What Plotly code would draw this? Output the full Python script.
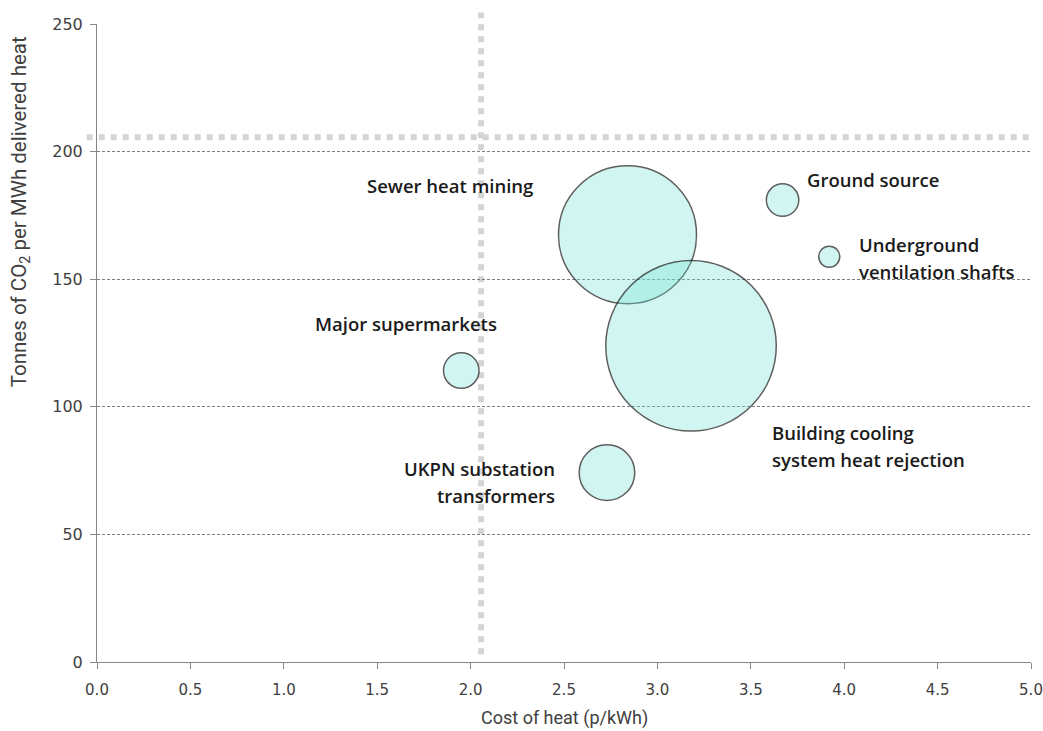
import plotly.graph_objects as go

# ---- data ----
sources = ["Sewer heat mining", "Building cooling system heat rejection", "Ground source",
           "Underground ventilation shafts", "Major supermarkets", "UKPN substation transformers"]
cost = [2.84, 3.18, 3.67, 3.92, 1.95, 2.73]          # p/kWh
co2 = [167.4, 123.9, 181.0, 158.8, 114.2, 74.2]       # tonnes CO2 / MWh delivered heat
heat_potential = [190, 290, 10.5, 4.4, 12.6, 30.8]   # bubble size (relative)

ref_cost = 2.056
ref_co2 = 205.6

x_range = [0, 5]
y_range = [0, 250]
x_ticks = [0, 0.5, 1, 1.5, 2, 2.5, 3, 3.5, 4, 4.5, 5]
x_ticklabels = ["0.0", "0.5", "1.0", "1.5", "2.0", "2.5", "3.0", "3.5", "4.0", "4.5", "5.0"]
y_ticks = [0, 50, 100, 150, 200, 250]

# label lines: (text, x, y, xanchor)
label_lines = [
    ("Sewer heat mining", 1.89, 186.7, "center"),
    ("Ground source", 3.79, 189.0, "left"),
    ("Underground", 4.069, 163.7, "left"),
    ("ventilation shafts", 4.069, 153.0, "left"),
    ("Major supermarkets", 1.654, 132.7, "center"),
    ("UKPN substation", 2.463, 75.9, "right"),
    ("transformers", 2.463, 65.1, "right"),
    ("Building cooling", 3.603, 90.0, "left"),
    ("system heat rejection", 3.603, 79.2, "left"),
]

def xp(v):
    return (v - x_range[0]) / (x_range[1] - x_range[0])

def yp(v):
    return (v - y_range[0]) / (y_range[1] - y_range[0])

ref_color = "#d4d4d4"
fig = go.Figure()

max_d = 170.5
fig.add_trace(go.Scatter(
    x=cost, y=co2, mode="markers", text=sources,
    marker=dict(size=heat_potential, sizemode="area",
                sizeref=2.0 * max(heat_potential) / max_d ** 2,
                color="rgba(110,229,212,0.45)",
                line=dict(color="#1c1c1c", width=1.5)),
    hoverinfo="text", showlegend=False))

# reference dotted lines (extend slightly beyond the plot area)
fig.add_shape(type="line", xref="paper", yref="paper",
              x0=xp(ref_cost), x1=xp(ref_cost), y0=yp(3), y1=yp(254.5),
              line=dict(color=ref_color, width=6, dash="dot"), layer="below")
fig.add_shape(type="line", xref="paper", yref="paper",
              x0=xp(-0.055), x1=xp(4.99), y0=yp(ref_co2), y1=yp(ref_co2),
              line=dict(color=ref_color, width=6, dash="dot"), layer="below")

for txt, x, y, xa in label_lines:
    fig.add_annotation(x=x, y=y, text=txt, xanchor=xa, yanchor="middle",
                       showarrow=False,
                       font=dict(family="Open Sans", size=18.5, color="#1a1a1a", weight=600))

fig.add_annotation(xref="paper", yref="paper", x=0, y=0.705, xshift=-77,
                   text="Tonnes of CO<sub>2</sub> per MWh delivered heat", textangle=-90,
                   xanchor="center", yanchor="middle", showarrow=False,
                   font=dict(family="Roboto", size=20.5, color="#404040"))
fig.add_annotation(xref="paper", yref="paper", x=0.5, y=0, yshift=-56,
                   text="Cost of heat (p/kWh)",
                   xanchor="center", yanchor="middle", showarrow=False,
                   font=dict(family="Roboto", size=18, color="#404040"))

fig.update_xaxes(range=x_range, tickvals=x_ticks, ticktext=x_ticklabels,
                 showgrid=False, zeroline=False, automargin=False,
                 showline=True, linecolor="#868686", linewidth=1,
                 ticks="outside", ticklen=6, tickcolor="#868686",
                 ticklabelstandoff=8,
                 tickfont=dict(family="DejaVu Sans", size=15, color="#404040"))
fig.update_yaxes(range=y_range, tickvals=y_ticks,
                 showgrid=True, gridcolor="#808080", griddash="3px,2px", gridwidth=0.8,
                 zeroline=False, automargin=False,
                 showline=True, linecolor="#868686", linewidth=1,
                 ticks="outside", ticklen=6, tickcolor="#868686",
                 ticklabelstandoff=4,
                 tickfont=dict(family="DejaVu Sans", size=16, color="#404040"))

fig.update_layout(width=1043, height=731,
                  margin=dict(l=97, r=12, t=24, b=69),
                  plot_bgcolor="white", paper_bgcolor="white")

# remove the default 8px page margin so the figure fills the window exactly
fig.write_html("out.html", config={"displayModeBar": False},
               post_script="document.body.style.margin='0px';")
